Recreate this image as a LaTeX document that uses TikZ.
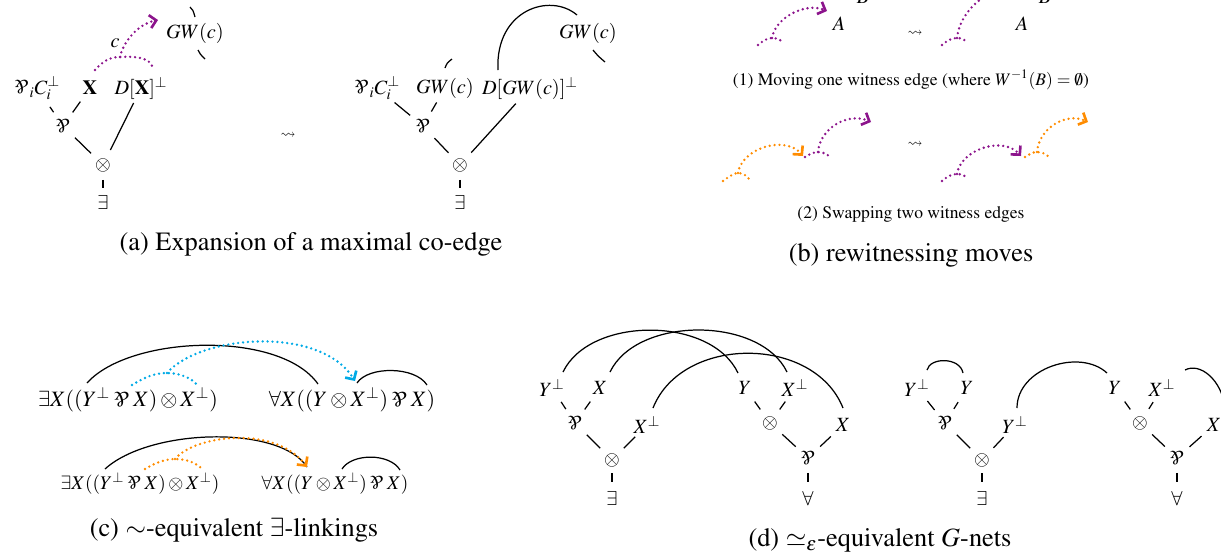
\documentclass[tikz,border=0pt]{standalone}
\usepackage[T1]{fontenc}
\usepackage{mathptmx}
\usepackage{amssymb}
\usepackage{graphicx}
\usetikzlibrary{arrows.meta}
\definecolor{wpurple}{RGB}{140,20,140}
\definecolor{worange}{RGB}{255,140,0}
\definecolor{wcyan}{RGB}{0,170,230}
\newcommand{\pa}{\mathbin{\mbox{\rotatebox[origin=c]{180}{\itshape\&}}}}
\newcommand{\pao}{\mathord{\mbox{\rotatebox[origin=c]{180}{\itshape\&}}}}
\newcommand{\lblfont}{\fontsize{11.5}{13}\selectfont}
\newcommand{\capfont}{\fontsize{15}{18}\selectfont}
\newcommand{\subcapfont}{\fontsize{10}{12}\selectfont}
\newcommand{\frmfont}{\fontsize{12.5}{14}\selectfont}
\newcommand{\frmsfont}{\fontsize{11}{13}\selectfont}
\newcommand{\sqfont}{\fontsize{8.5}{10}\selectfont}
\begin{document}
\begin{tikzpicture}[x=0.02cm,y=-0.02cm,
  lab/.style={inner sep=0pt, font=\lblfont},
  frm/.style={inner sep=0pt, font=\frmfont},
  frms/.style={inner sep=0pt, font=\frmsfont},
  capt/.style={inner sep=0pt, font=\capfont},
  subcapt/.style={inner sep=0pt, font=\subcapfont},
  sq/.style={inner sep=0pt, font=\sqfont},
  te/.style={line width=0.7pt, shorten <=9.5pt, shorten >=9.5pt},
  ax/.style={line width=0.7pt},
  wit/.style={line width=1.5pt, dash pattern=on 0pt off 2.8pt, line cap=round},
  tip/.style={-{Straight Barb[length=3.6pt,width=7.5pt]}}
]
\useasboundingbox (0,0) rectangle (1221,559);
\clip (0,0) rectangle (1221,559);

% ---------------- (a) left
\node[lab] (a1) at (37,88) {$\pao_i C_i^\perp$};
\node[lab] (a2) at (90,88) {$\mathbf{X}$};
\node[lab] (a3) at (141,88) {$D[\mathbf{X}]^\perp$};
\node[lab] (a4) at (63,126) {$\pao$};
\node[lab] (a5) at (103,165) {$\otimes$};
\node[lab] (a6) at (103,202) {$\exists$};
\node[lab] (a7) at (195,33) {$GW(c)$};
\node[lab] (ac) at (115,43) {$c$};
\draw[te, shorten <=13pt] (a1.center) -- (a4.center);
\draw[te] (a2.center) -- (a4.center);
\draw[te] (a4.center) -- (a5.center);
\draw[te] (a3.center) -- (a5.center);
\draw[te, shorten <=8.5pt, shorten >=8pt] (a5.center) -- (a6.center);
\coordinate (a2t) at (95,70);
\coordinate (a3t) at (153,68);
\coordinate (aap) at (120,57);
\coordinate (a7t) at (158,20);
\draw[wit, wpurple] (a2t) .. controls (103,61) and (110,57) .. (aap) .. controls (138,56) and (150,58) .. (a3t);
\draw[wit, wpurple, tip] (aap) .. controls (123,42) and (138,24) .. (a7t);
\coordinate (a7u) at (190,7);
\coordinate (a7v) at (195,17);
\coordinate (a7w) at (198,50);
\coordinate (a7x) at (205,59);
\draw[ax] (a7u) .. controls (193,10) .. (a7v);
\draw[ax] (a7w) .. controls (200,54) .. (a7x);

\node[sq] (lta) at (288,136) {$\leadsto$};

% ---------------- (a) right
\node[lab] (b1) at (377,88) {$\pao_i C_i^\perp$};
\node[lab] (b2) at (445,88) {$GW(c)$};
\node[lab] (b3) at (530,88) {$D[GW(c)]^\perp$};
\node[lab] (b4) at (423,126) {$\pao$};
\node[lab] (b5) at (460,165) {$\otimes$};
\node[lab] (b6) at (460,202) {$\exists$};
\node[lab] (b7) at (588,33) {$GW(c)$};
\draw[te, shorten <=13pt] (b1.center) -- (b4.center);
\draw[te] (b2.center) -- (b4.center);
\draw[te] (b4.center) -- (b5.center);
\draw[te, shorten <=12pt] (b3.center) -- (b5.center);
\draw[te, shorten <=8.5pt, shorten >=8pt] (b5.center) -- (b6.center);
\coordinate (b3t) at (498,70);
\coordinate (b7t) at (577,15);
\draw[ax] (b3t) .. controls (495,10) and (550,-8) .. (b7t);
\coordinate (b2u) at (445,68);
\coordinate (b2v) at (452,59);
\draw[ax] (b2u) .. controls (447,63) .. (b2v);
\coordinate (b7u) at (593,50);
\coordinate (b7v) at (605,62);
\draw[ax] (b7u) .. controls (598,56) .. (b7v);

\node[capt] (capa) at (311,244) {(a) Expansion of a maximal co-edge};

% ---------------- (b)
\node[lab] (pA) at (839,24) {$A$};
\node[lab] (pB) at (863,-3) {$B$};
\coordinate (p1l) at (758,45);
\coordinate (p1a) at (772,38);
\coordinate (p1r) at (784,43);
\coordinate (p1t) at (827,11);
\draw[wit,wpurple] (p1l) .. controls (764,40) and (768,38) .. (p1a) .. controls (777,38) and (781,40) .. (p1r);
\draw[wit,wpurple,tip] (p1a) .. controls (775,18) and (805,2) .. (p1t);

\node[sq] (ls1) at (915,34) {$\leadsto$};

\node[lab] (qA) at (1022,24) {$A$};
\node[lab] (qB) at (1045,-3) {$B$};
\coordinate (q1l) at (942,45);
\coordinate (q1a) at (957,38);
\coordinate (q1r) at (968,43);
\coordinate (q1t) at (1030,-6);
\draw[wit,wpurple] (q1l) .. controls (948,40) and (952,38) .. (q1a) .. controls (962,38) and (965,40) .. (q1r);
\draw[wit,wpurple,tip] (q1a) .. controls (962,-5) and (1020,-25) .. (q1t);

\node[subcapt] (cap1) at (911,80) {(1) Moving one witness edge (where $W^{-1}(B)=\emptyset$)};

\coordinate (r1l) at (723,181);
\coordinate (r1a) at (738,173);
\coordinate (r1r) at (749,179);
\coordinate (r1t) at (803,156);
\draw[wit,worange] (r1l) .. controls (730,176) and (734,173) .. (r1a) .. controls (743,173) and (747,176) .. (r1r);
\draw[wit,worange,tip] (r1a) .. controls (742,148) and (785,135) .. (r1t);
\coordinate (s1l) at (805,157);
\coordinate (s1a) at (818,152);
\coordinate (s1r) at (830,157);
\coordinate (s1t) at (871,122);
\draw[wit,wpurple] (s1l) .. controls (810,154) and (814,152) .. (s1a) .. controls (823,152) and (827,154) .. (s1r);
\draw[wit,wpurple,tip] (s1a) .. controls (820,128) and (848,112) .. (s1t);

\node[sq] (ls2) at (915,145) {$\leadsto$};

\coordinate (t1l) at (942,181);
\coordinate (t1a) at (957,174);
\coordinate (t1r) at (968,179);
\coordinate (t1t) at (1021,156);
\draw[wit,wpurple] (t1l) .. controls (948,176) and (952,174) .. (t1a) .. controls (962,174) and (966,176) .. (t1r);
\draw[wit,wpurple,tip] (t1a) .. controls (961,149) and (1003,136) .. (t1t);
\coordinate (u1l) at (1025,157);
\coordinate (u1a) at (1037,152);
\coordinate (u1r) at (1049,157);
\coordinate (u1t) at (1088,122);
\draw[wit,worange] (u1l) .. controls (1030,154) and (1033,152) .. (u1a) .. controls (1042,152) and (1046,154) .. (u1r);
\draw[wit,worange,tip] (u1a) .. controls (1039,128) and (1066,112) .. (u1t);

\node[subcapt] (cap2) at (911,214) {(2) Swapping two witness edges};
\node[capt] (capb) at (911,255) {(b) rewitnessing moves};

% ---------------- (c)
\node[frm] (c1) at (128,400) {$\exists X((Y^\perp \pa X)\otimes X^\perp)$};
\node[frm] (c2) at (352,400) {$\forall X((Y\otimes X^\perp)\pa X)$};
\coordinate (c1y) at (87,383);
\coordinate (c2x) at (318,384);
\draw[ax] (c1y) .. controls (130,335) and (280,330) .. (c2x);
\coordinate (c1p) at (132,385);
\coordinate (c1a) at (167,373);
\coordinate (c1q) at (198,386);
\draw[wit,wcyan] (c1p) .. controls (145,377) and (155,373) .. (c1a) .. controls (180,373) and (192,378) .. (c1q);
\coordinate (c2t) at (355,381);
\draw[wit,wcyan,tip] (c1a) .. controls (200,335) and (320,325) .. (c2t);
\coordinate (c2l) at (357,383);
\coordinate (c2r) at (427,385);
\draw[ax] (c2l) .. controls (368,366) and (415,366) .. (c2r);

\node[frms] (c3) at (140,483) {$\exists X((Y^\perp \pa X)\otimes X^\perp)$};
\node[frms] (c4) at (335,483) {$\forall X((Y\otimes X^\perp)\pa X)$};
\coordinate (c3y) at (105,469);
\coordinate (c4y) at (307,467);
\draw[ax] (c3y) .. controls (150,428) and (280,425) .. (c4y);
\coordinate (c3p) at (145,469);
\coordinate (c3a) at (175,459);
\coordinate (c3q) at (203,470);
\draw[wit,worange] (c3p) .. controls (155,463) and (165,459) .. (c3a) .. controls (187,459) and (197,463) .. (c3q);
\draw[wit,worange,tip] (c3a) .. controls (195,435) and (275,425) .. (c4y);
\coordinate (c4l) at (342,469);
\coordinate (c4r) at (400,470);
\draw[ax] (c4l) .. controls (352,453) and (390,453) .. (c4r);

\node[capt] (capc) at (234,530) {(c) $\sim$-equivalent $\exists$-linkings};

% ---------------- (d) left net
\node[lab] (d1) at (552,388) {$Y^\perp$};
\node[lab] (d2) at (600,388) {$X$};
\node[lab] (d3) at (575,423) {$\pao$};
\node[lab] (d4) at (647,425) {$X^\perp$};
\node[lab] (d5) at (612,460) {$\otimes$};
\node[lab] (d6) at (612,498) {$\exists$};
\node[lab] (d7) at (745,388) {$Y$};
\node[lab] (d8) at (795,388) {$X^\perp$};
\node[lab] (d9) at (770,423) {$\otimes$};
\node[lab] (d10) at (843,425) {$X$};
\node[lab] (d11) at (808,458) {$\pao$};
\node[lab] (d12) at (808,498) {$\forall$};
\draw[te] (d1.center) -- (d3.center);
\draw[te] (d2.center) -- (d3.center);
\draw[te] (d3.center) -- (d5.center);
\draw[te] (d4.center) -- (d5.center);
\draw[te, shorten <=7.5pt, shorten >=9pt] (d5.center) -- (d6.center);
\draw[te] (d7.center) -- (d9.center);
\draw[te] (d8.center) -- (d9.center);
\draw[te] (d9.center) -- (d11.center);
\draw[te] (d10.center) -- (d11.center);
\draw[te, shorten <=8.5pt, shorten >=9pt] (d11.center) -- (d12.center);
\coordinate (d1t) at (563,372);
\coordinate (d7t) at (738,373);
\coordinate (d2t) at (610,372);
\coordinate (d8t) at (787,372);
\coordinate (d4t) at (653,408);
\coordinate (d10t) at (843,408);
\draw[ax] (d1t) .. controls (590,316) and (711,316) .. (d7t);
\draw[ax] (d2t) .. controls (637,316) and (760,316) .. (d8t);
\draw[ax] (d4t) .. controls (682,335) and (814,335) .. (d10t);

% ---------------- (d) right net
\node[lab] (e1) at (917,388) {$Y^\perp$};
\node[lab] (e2) at (967,388) {$Y$};
\node[lab] (e3) at (945,423) {$\pao$};
\node[lab] (e4) at (1015,425) {$Y^\perp$};
\node[lab] (e5) at (982,460) {$\otimes$};
\node[lab] (e6) at (982,498) {$\exists$};
\node[lab] (e7) at (1115,388) {$Y$};
\node[lab] (e8) at (1162,388) {$X^\perp$};
\node[lab] (e9) at (1140,423) {$\otimes$};
\node[lab] (e10) at (1214,425) {$X$};
\node[lab] (e11) at (1177,458) {$\pao$};
\node[lab] (e12) at (1177,498) {$\forall$};
\draw[te] (e1.center) -- (e3.center);
\draw[te] (e2.center) -- (e3.center);
\draw[te] (e3.center) -- (e5.center);
\draw[te] (e4.center) -- (e5.center);
\draw[te, shorten <=7.5pt, shorten >=9pt] (e5.center) -- (e6.center);
\draw[te] (e7.center) -- (e9.center);
\draw[te] (e8.center) -- (e9.center);
\draw[te] (e9.center) -- (e11.center);
\draw[te] (e10.center) -- (e11.center);
\draw[te, shorten <=8.5pt, shorten >=9pt] (e11.center) -- (e12.center);
\coordinate (e1t) at (927,370);
\coordinate (e2t) at (963,373);
\coordinate (e4t) at (1017,408);
\coordinate (e7t) at (1107,373);
\coordinate (e8t) at (1185,370);
\coordinate (e10t) at (1225,408);
\draw[ax] (e1t) .. controls (930,357) and (960,357) .. (e2t);
\draw[ax] (e4t) .. controls (1017,368) and (1080,348) .. (e7t);
\draw[ax] (e8t) .. controls (1200,362) and (1222,380) .. (e10t);

\node[capt] (capd) at (880,540) {(d) $\simeq_\varepsilon$-equivalent $G$-nets};
\end{tikzpicture}
\end{document}
